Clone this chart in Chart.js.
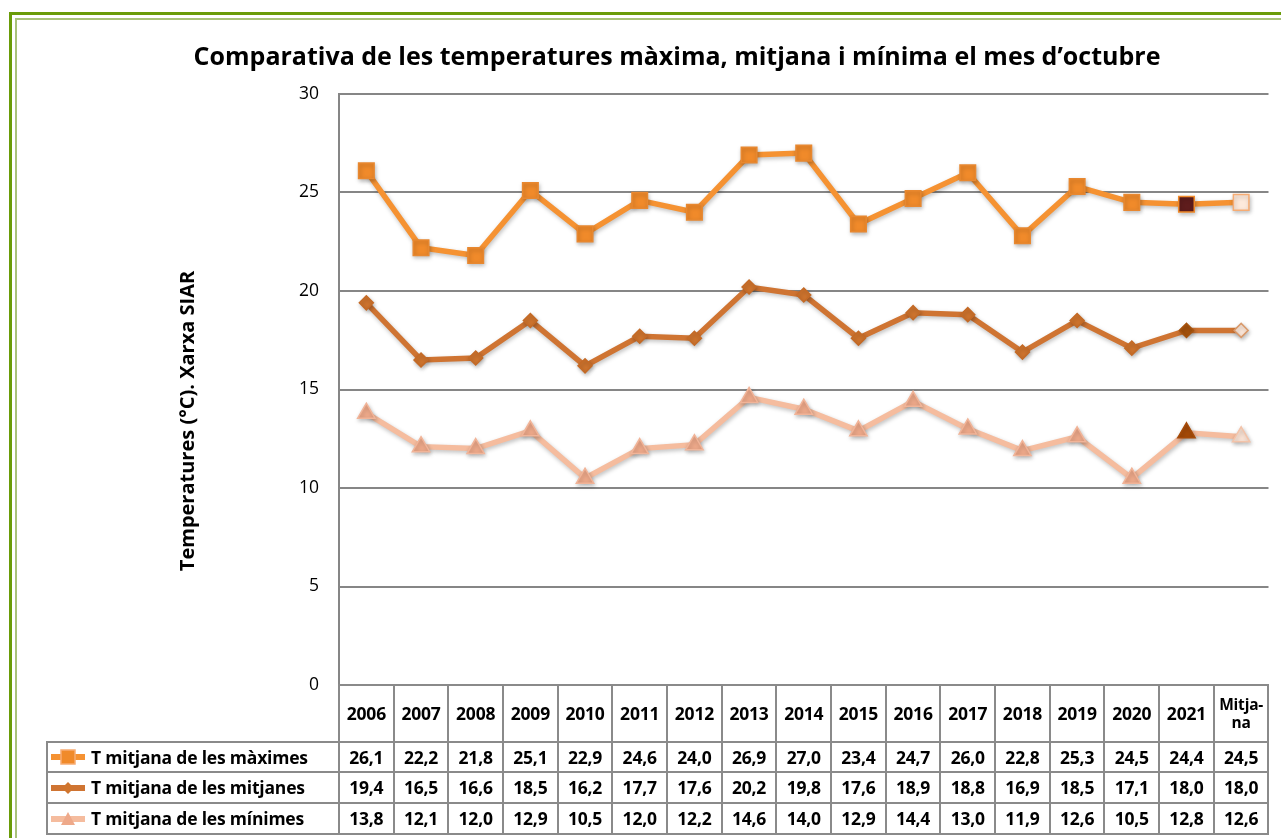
<!DOCTYPE html>
<html>
<head>
<meta charset="utf-8">
<script src="https://cdn.jsdelivr.net/npm/chart.js@4"></script>
<style>
  html, body { margin:0; padding:0; background:#fff; width:1281px; height:838px; overflow:hidden; }
  #frameOuter { position:absolute; left:9px; top:12px; width:1320px; height:900px; border:3px solid #6a9c08; box-sizing:border-box; }
  #frameInner { position:absolute; left:15px; top:18px; width:1320px; height:900px; border:2px solid #a9c27a; box-sizing:border-box; }
  #c { position:absolute; left:0; top:0; }
  .cell { position:absolute; box-sizing:border-box; border:2px solid #8a8a8a; display:flex; align-items:center; justify-content:center;
          font-family:"Open Sans", sans-serif; font-weight:700; font-size:17.5px; letter-spacing:-0.2px; color:#000; text-align:center; line-height:1.15; background:transparent; }
  .legcell { justify-content:flex-start; }
  .legcell svg { margin-left:3px; margin-right:6px; flex:none; }
</style>
</head>
<body>
<div id="frameOuter"></div>
<div id="frameInner"></div>
<canvas id="c" width="1281" height="838"></canvas>
<div id="table"></div>
<script>
const categories = ['2006','2007','2008','2009','2010','2011','2012','2013','2014','2015','2016','2017','2018','2019','2020','2021','Mitjana'];
const headerLabels = ['2006','2007','2008','2009','2010','2011','2012','2013','2014','2015','2016','2017','2018','2019','2020','2021','Mitja-<br>na'];
const seriesNames = ['T mitjana de les màximes','T mitjana de les mitjanes','T mitjana de les mínimes'];
const maxValues  = [26.1,22.2,21.8,25.1,22.9,24.6,24.0,26.9,27.0,23.4,24.7,26.0,22.8,25.3,24.5,24.4,24.5];
const meanValues = [19.4,16.5,16.6,18.5,16.2,17.7,17.6,20.2,19.8,17.6,18.9,18.8,16.9,18.5,17.1,18.0,18.0];
const minValues  = [13.8,12.1,12.0,12.9,10.5,12.0,12.2,14.6,14.0,12.9,14.4,13.0,11.9,12.6,10.5,12.8,12.6];
const yTicks = [0,5,10,15,20,25,30];
const chartTitle = 'Comparativa de les temperatures màxima, mitjana i mínima el mes d’octubre';
const yTitle = 'Temperatures (°C). Xarxa SIAR';

const LAST = categories.length - 1, CUR = categories.length - 2;
function perPoint(normal, current, mean) {
  return ctx => ctx.dataIndex === CUR ? current : (ctx.dataIndex === LAST ? mean : normal);
}
const styles = [
  {line:'#f59232', fill:'#f08a2a', border:'#e88830', cur:'#5e1c1c', curB:'#f08a2a', mean:'#fde9db', meanB:'#f7ac73', shape:'rect', r:11},
  {line:'#cf7432', fill:'#d0752e', border:'#c46a26', cur:'#a5520c', curB:'#a5520c', mean:'#fde9db', meanB:'#d99a6c', shape:'rectRot', r:7},
  {line:'#f5bc9e', fill:'#eea98a', border:'#f1b498', cur:'#a54a08', curB:'#a54a08', mean:'#fbe4d6', meanB:'#f3c3a9', shape:'triangle', r:10}
];
const allData = [maxValues, meanValues, minValues];

const shadowPlugin = {
  id:'shadow',
  beforeDatasetDraw(chart) { const c = chart.ctx; c.save(); c.shadowColor='rgba(0,0,0,0.25)'; c.shadowBlur=4; c.shadowOffsetX=1; c.shadowOffsetY=2; },
  afterDatasetDraw(chart) { chart.ctx.restore(); }
};
const yTitlePlugin = {
  id:'yTitle',
  afterDraw(chart) {
    const c = chart.ctx; c.save();
    c.translate(188, 421); c.rotate(-Math.PI/2);
    c.font = 'bold 20px "Open Sans"'; c.fillStyle = '#000'; c.textAlign='center'; c.textBaseline='middle';
    c.fillText(yTitle, 0, 0); c.restore();
  }
};

const chart = new Chart(document.getElementById('c'), {
  type:'line',
  data:{
    labels: categories,
    datasets: allData.map((d,i)=>({
      label: seriesNames[i], data: d,
      borderColor: styles[i].line, borderWidth: 5.5, tension: 0,
      pointStyle: styles[i].shape, pointRadius: styles[i].r, pointHoverRadius: styles[i].r,
      pointBorderWidth: 1.5,
      pointBackgroundColor: perPoint(styles[i].fill, styles[i].cur, styles[i].mean),
      pointBorderColor: perPoint(styles[i].border, styles[i].curB, styles[i].meanB),
      order: i
    }))
  },
  options:{
    responsive:false, animation:false, devicePixelRatio:1,
    layout:{ padding:{ left:83, right:10, top:0, bottom:153 } },
    plugins:{
      legend:{ display:false }, tooltip:{ enabled:false },
      title:{ display:true, text: chartTitle, color:'#000', font:{ family:'"Open Sans"', size:25, weight:'bold', lineHeight:1.2 }, padding:{ top:43, bottom:21 } }
    },
    scales:{
      x:{ offset:true, ticks:{ display:false }, grid:{ display:false, drawTicks:false }, border:{ display:true, color:'#858585', width:2 },
          afterFit(s){ s.height = 0; } },
      y:{ min:0, max:30, afterBuildTicks(s){ s.ticks = yTicks.map(v=>({value:v})); },
          ticks:{ color:'#000', padding:20, font:{ family:'"Open Sans"', size:17.5 } },
          grid:{ color:'#868686', lineWidth:2, drawTicks:false }, border:{ display:true, color:'#868686', width:2 },
          afterFit(s){ s.width = 339 - 83; } }
    }
  },
  plugins:[shadowPlugin, yTitlePlugin]
});

// data table aligned to the chart's own x scale
(function buildTable(){
  const t = document.getElementById('table');
  const xs = chart.scales.x, area = chart.chartArea;
  const w = (area.right - area.left) / categories.length;
  const rowsY = [area.bottom, 742, 772, 803, 834];
  function cell(x0, x1, y0, y1, html, cls) {
    const d = document.createElement('div');
    d.className = 'cell' + (cls ? ' ' + cls : '');
    d.style.left = (x0 - 1) + 'px'; d.style.top = (y0 - 1) + 'px';
    d.style.width = (x1 - x0 + 2) + 'px'; d.style.height = (y1 - y0 + 2) + 'px';
    d.innerHTML = html; t.appendChild(d); return d;
  }
  categories.forEach((c,i)=>{
    const cx = xs.getPixelForValue(i);
    const hc = cell(cx - w/2, cx + w/2, rowsY[0], rowsY[1], headerLabels[i]);
    if (i === LAST) { hc.style.fontSize = '15.5px'; }
  });
  const icons = [
    '<rect x="10" y="2" width="14" height="14" fill="#f08a2a" stroke="#f7ac73" stroke-width="1.5"/>',
    '<polygon points="17,3 23,9 17,15 11,9" fill="#d0752e"/>',
    '<polygon points="17,2 24,15 10,15" fill="#eea98a"/>'
  ];
  allData.forEach((d,r)=>{
    const y0 = rowsY[r+1], y1 = rowsY[r+2];
    const svg = '<svg width="34" height="18" viewBox="0 0 34 18"><line x1="0" y1="9" x2="34" y2="9" stroke="'+styles[r].line+'" stroke-width="6"/>' +
      icons[r] + '</svg>';
    cell(47, area.left, y0, y1, svg + '<span>' + seriesNames[r] + '</span>', 'legcell');
    d.forEach((v,i)=>{
      const cx = xs.getPixelForValue(i);
      cell(cx - w/2, cx + w/2, y0, y1, v.toFixed(1).replace('.', ','));
    });
  });
})();
</script>
</body>
</html>
